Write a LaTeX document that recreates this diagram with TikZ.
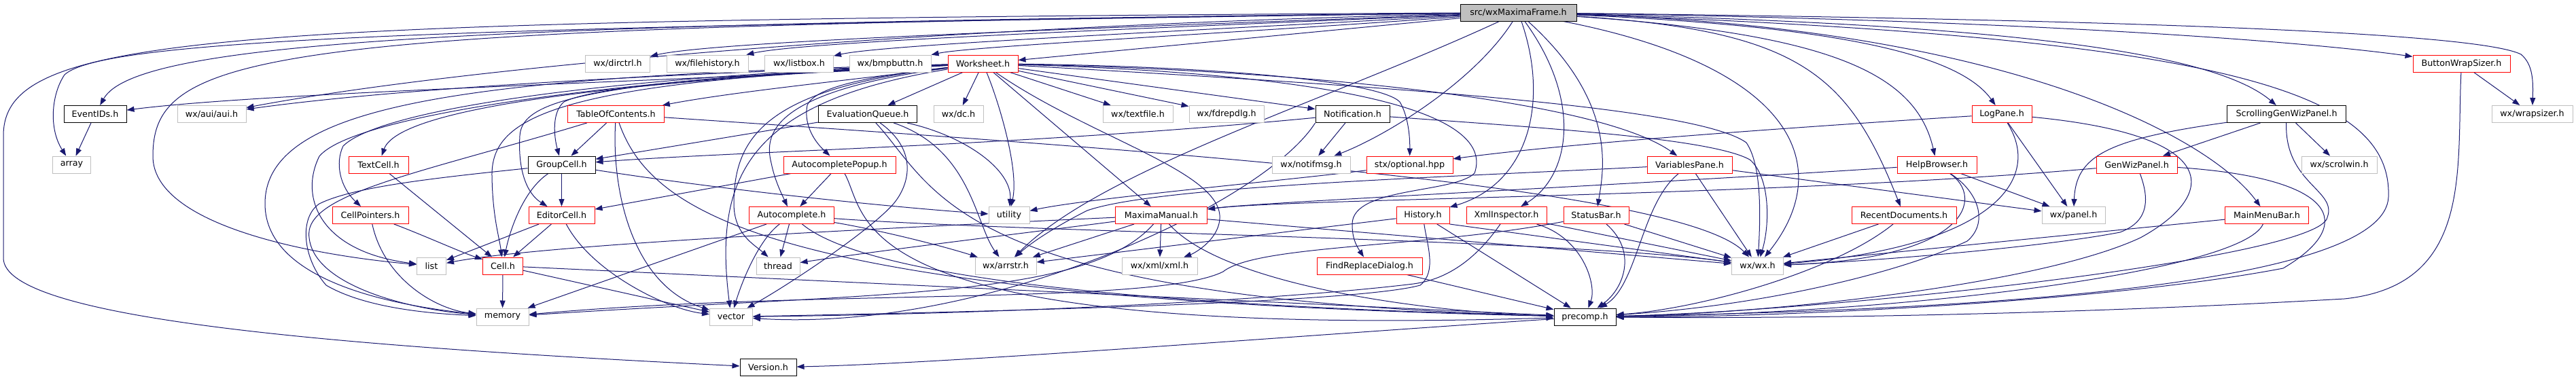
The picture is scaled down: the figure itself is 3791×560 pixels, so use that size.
\documentclass[tikz,border=0pt]{standalone}
\usepackage{fontspec}
\setmainfont{DejaVu Sans}
\usetikzlibrary{arrows.meta}
\definecolor{edgecol}{HTML}{191970}
\definecolor{extc}{HTML}{BFBFBF}
\definecolor{redc}{HTML}{FF0000}
\definecolor{mainfill}{HTML}{BFBFBF}
\pgfdeclarelayer{bg}
\pgfdeclarelayer{edges}
\pgfsetlayers{bg,edges,main}
\begin{document}
\begin{tikzpicture}[x=1pt,y=-1pt,
  nbox/.style={draw, line width=1pt, minimum height=25pt, inner sep=0pt, fill=white, text=black, font=\fontsize{12.7}{15}\selectfont},
  mainbox/.style={nbox, fill=mainfill, draw=black},
  blkbox/.style={nbox, draw=black},
  redbox/.style={nbox, draw=redc},
  extbox/.style={nbox, draw=extc},
  dep/.style={draw=edgecol, line width=1pt, -{Triangle[length=11pt,width=8pt]}}]
\useasboundingbox (0,0) rectangle (3791,560);
\begin{pgfonlayer}{bg}
\fill[white] (0,0) rectangle (3791,560);
\end{pgfonlayer}
% row 0
\node[mainbox, minimum width=171pt] (M) at (2234.5,18.5) {src/wxMaximaFrame.h};
% row 1
\node[extbox, minimum width=95pt] (dirctrl) at (909,93.5) {wx/dirctrl.h};
\node[extbox, minimum width=120pt] (filehist) at (1041,93.5) {wx/filehistory.h};
\node[extbox, minimum width=101pt] (listbox) at (1176,93.5) {wx/listbox.h};
\node[extbox, minimum width=120pt] (bmpbuttn) at (1310,93.5) {wx/bmpbuttn.h};
\node[redbox, minimum width=103pt] (W) at (1446.5,93.5) {Worksheet.h};
\node[redbox, minimum width=143pt] (BWS) at (3622.5,93.5) {ButtonWrapSizer.h};
% row 2
\node[blkbox, minimum width=92pt] (EventIDs) at (140,168) {EventIDs.h};
\node[extbox, minimum width=101pt] (aui) at (311.5,168) {wx/aui/aui.h};
\node[redbox, minimum width=142pt] (TOC) at (906.5,168) {TableOfContents.h};
\node[blkbox, minimum width=145pt] (EQ) at (1277,168) {EvaluationQueue.h};
\node[extbox, minimum width=73pt] (dc) at (1410.5,168) {wx/dc.h};
\node[extbox, minimum width=103pt] (textfile) at (1674.5,168) {wx/textfile.h};
\node[extbox, minimum width=110pt] (fdrepdlg) at (1805,168) {wx/fdrepdlg.h};
\node[blkbox, minimum width=109pt] (Notif) at (1990.5,168) {Notification.h};
\node[redbox, minimum width=88pt] (LogPane) at (2946,168) {LogPane.h};
\node[blkbox, minimum width=175pt] (SGWP) at (3365,168) {ScrollingGenWizPanel.h};
\node[extbox, minimum width=119pt] (wrapsizer) at (3726.5,168) {wx/wrapsizer.h};
% row 3
\node[extbox, minimum width=56pt] (array) at (105.5,242.5) {array};
\node[redbox, minimum width=88pt] (TextCell) at (557,242.5) {TextCell.h};
\node[blkbox, minimum width=99pt] (GC) at (826.5,242.5) {GroupCell.h};
\node[redbox, minimum width=165pt] (AP) at (1235.5,242.5) {AutocompletePopup.h};
\node[extbox, minimum width=115pt] (notifmsg) at (1929.5,242.5) {wx/notifmsg.h};
\node[redbox, minimum width=127pt] (stx) at (2074.5,242.5) {stx/optional.hpp};
\node[redbox, minimum width=125pt] (VP) at (2486.5,242.5) {VariablesPane.h};
\node[redbox, minimum width=117pt] (HB) at (2850.5,242.5) {HelpBrowser.h};
\node[redbox, minimum width=119pt] (GWP) at (3144.5,242.5) {GenWizPanel.h};
\node[extbox, minimum width=111pt] (scrolwin) at (3442.5,242.5) {wx/scrolwin.h};
% row 4
\node[redbox, minimum width=112pt] (CellPtr) at (545,317) {CellPointers.h};
\node[redbox, minimum width=97pt] (EditorCell) at (826.5,317) {EditorCell.h};
\node[redbox, minimum width=125pt] (AC) at (1165,317) {Autocomplete.h};
\node[extbox, minimum width=60pt] (utility) at (1485,317) {utility};
\node[redbox, minimum width=135pt] (MM) at (1709,317) {MaximaManual.h};
\node[redbox, minimum width=78pt] (History) at (2094,317) {History.h};
\node[redbox, minimum width=118pt] (XI) at (2217,317) {XmlInspector.h};
\node[redbox, minimum width=96pt] (SB) at (2349,317) {StatusBar.h};
\node[redbox, minimum width=154pt] (RD) at (2802,317) {RecentDocuments.h};
\node[extbox, minimum width=93pt] (panel) at (3051.5,317) {wx/panel.h};
\node[redbox, minimum width=123pt] (MMB) at (3336,317) {MainMenuBar.h};
% row 5
\node[extbox, minimum width=43pt] (list) at (635,391.5) {list};
\node[redbox, minimum width=59pt] (Cell) at (740,391.5) {Cell.h};
\node[extbox, minimum width=64pt] (thread) at (1145,391.5) {thread};
\node[extbox, minimum width=90pt] (arrstr) at (1480,391.5) {wx/arrstr.h};
\node[extbox, minimum width=111pt] (xml) at (1706.5,391.5) {wx/xml/xml.h};
\node[redbox, minimum width=155pt] (FRD) at (2015.5,391.5) {FindReplaceDialog.h};
\node[extbox, minimum width=76pt] (wxh) at (2586.5,391.5) {wx/wx.h};
% row 6
\node[extbox, minimum width=77pt] (memory) at (739.5,466.5) {memory};
\node[extbox, minimum width=63pt] (vector) at (1076,466.5) {vector};
\node[blkbox, minimum width=91pt] (precomp) at (2332.5,466.5) {precomp.h};
% row 7
\node[blkbox, minimum width=83pt] (Version) at (1130.5,541) {Version.h};

\begin{pgfonlayer}{edges}
% ---- from wxMaximaFrame.h
\draw[dep] (M) -- (W);
\draw[dep] (M) .. controls (1500,45) and (1050,62) .. (dirctrl);
\draw[dep] (M) .. controls (1600,45) and (1180,62) .. (filehist);
\draw[dep] (M) .. controls (1700,48) and (1300,66) .. (listbox);
\draw[dep] (M) .. controls (1800,50) and (1430,68) .. (bmpbuttn);
\draw[dep] (M) .. controls (1400,38) and (700,95) .. (aui);
\draw[dep] (M) .. controls (700,35) and (200,60) .. (EventIDs);
\draw[dep] (M) .. controls (600,40) and (150,60) .. (95,110) .. controls (75,140) and (72,190) .. (array);
\draw[dep] (M) .. controls (400,40) and (225,70) .. (225,230) .. controls (225,330) and (450,375) .. (list);
\draw[dep] (M) .. controls (300,30) and (5,50) .. (5,200) -- (5,380) .. controls (5,470) and (500,510) .. (Version);
\draw[dep] (M) .. controls (2170,120) and (2040,200) .. (notifmsg);
\draw[dep] (M) .. controls (1950,150) and (1620,250) .. (arrstr);
\draw[dep] (M) .. controls (2280,150) and (2250,270) .. (History);
\draw[dep] (M) .. controls (2330,150) and (2310,260) .. (XI);
\draw[dep] (M) .. controls (2380,150) and (2360,250) .. (SB);
\draw[dep] (M) .. controls (2650,45) and (2720,110) .. (RD);
\draw[dep] (M) .. controls (2700,50) and (2820,110) .. (HB);
\draw[dep] (M) .. controls (2750,40) and (2890,90) .. (LogPane);
\draw[dep] (M) .. controls (2650,100) and (2700,250) .. (wxh);
\draw[dep] (M) .. controls (2950,40) and (3250,200) .. (MMB);
\draw[dep] (M) .. controls (2900,35) and (3250,70) .. (SGWP);
\draw[dep] (M) .. controls (3300,55) and (3520,140) .. (3515,290) .. controls (3510,410) and (3000,455) .. (precomp);
\draw[dep] (M) .. controls (3000,30) and (3400,62) .. (BWS);
\draw[dep] (M) .. controls (3200,30) and (3650,50) .. (3710,80) .. controls (3728,95) and (3728,120) .. (wrapsizer);
% ---- misc
\draw[dep] (precomp) .. controls (1900,495) and (1400,535) .. (Version);
\draw[dep] (EventIDs) -- (array);
% ---- from Worksheet.h
\draw[dep] (W) .. controls (1000,120) and (400,135) .. (EventIDs);
\draw[dep] (W) .. controls (1000,108) and (600,128) .. (aui);
\draw[dep] (W) .. controls (1250,118) and (1080,135) .. (TOC);
\draw[dep] (W) -- (EQ);
\draw[dep] (W) -- (dc);
\draw[dep] (W) -- (textfile);
\draw[dep] (W) -- (fdrepdlg);
\draw[dep] (W) -- (Notif);
\draw[dep] (W) .. controls (1000,115) and (590,150) .. (TextCell);
\draw[dep] (W) .. controls (1100,110) and (880,125) .. (830,150) .. controls (812,165) and (815,200) .. (GC);
\draw[dep] (W) .. controls (1300,110) and (1200,125) .. (1188,155) .. controls (1183,180) and (1195,205) .. (AP);
\draw[dep] (W) .. controls (1800,98) and (2030,120) .. (2060,150) .. controls (2072,170) and (2075,200) .. (stx);
\draw[dep] (W) .. controls (1900,103) and (2350,145) .. (VP);
\draw[dep] (W) .. controls (900,112) and (560,160) .. (505,215) .. controls (493,240) and (500,275) .. (CellPtr);
\draw[dep] (W) .. controls (900,115) and (520,170) .. (470,230) .. controls (440,290) and (470,370) .. (list);
\draw[dep] (W) .. controls (850,118) and (768,150) .. (765,200) .. controls (762,250) and (775,285) .. (EditorCell);
\draw[dep] (W) .. controls (820,120) and (722,170) .. (724,260) .. controls (725,320) and (735,350) .. (Cell);
\draw[dep] (W) .. controls (700,112) and (390,150) .. (390,300) .. controls (390,420) and (600,452) .. (memory);
\draw[dep] (W) .. controls (1100,150) and (1050,260) .. (vector);
\draw[dep] (W) .. controls (1130,130) and (1080,200) .. (1080,300) .. controls (1080,345) and (1110,360) .. (thread);
\draw[dep] (W) .. controls (1130,135) and (1125,200) .. (1135,240) .. controls (1140,265) and (1150,285) .. (AC);
\draw[dep] (W) .. controls (1470,150) and (1500,250) .. (utility);
\draw[dep] (W) -- (MM);
\draw[dep] (W) .. controls (1600,200) and (1790,250) .. (1795,317) .. controls (1797,350) and (1760,372) .. (xml);
\draw[dep] (W) .. controls (2000,110) and (2200,170) .. (2170,255) .. controls (2140,285) and (1990,275) .. (1990,330) .. controls (1990,350) and (1995,360) .. (FRD);
\draw[dep] (W) .. controls (2100,130) and (2500,160) .. (2570,210) .. controls (2590,240) and (2592,300) .. (wxh);
% ---- from EvaluationQueue.h
\draw[dep] (EQ) -- (GC);
\draw[dep] (EQ) .. controls (1420,200) and (1490,250) .. (utility);
\draw[dep] (EQ) .. controls (1350,220) and (1340,270) .. (1315,300) .. controls (1280,340) and (1160,420) .. (vector);
\draw[dep] (EQ) .. controls (1380,280) and (1400,440) .. (precomp);
\draw[dep] (EQ) .. controls (1430,220) and (1435,330) .. (arrstr);
% ---- from TableOfContents.h
\draw[dep] (TOC) -- (GC);
\draw[dep] (TOC) .. controls (620,255) and (445,285) .. (455,350) .. controls (462,420) and (600,455) .. (memory);
\draw[dep] (TOC) .. controls (900,280) and (930,420) .. (vector);
\draw[dep] (TOC) .. controls (960,320) and (1150,440) .. (precomp);
\draw[dep] (TOC) .. controls (1600,215) and (2470,270) .. (wxh);
% ---- from GroupCell.h
\draw[dep] (GC) -- (EditorCell);
\draw[dep] (GC) .. controls (770,280) and (750,340) .. (Cell);
\draw[dep] (GC) .. controls (640,262) and (520,275) .. (470,300) .. controls (440,320) and (445,380) .. (480,420) .. controls (540,455) and (640,462) .. (memory);
\draw[dep] (GC) .. controls (1100,285) and (1350,308) .. (utility);
% ---- from Notification.h
\draw[dep] (Notif) -- (notifmsg);
\draw[dep] (Notif) .. controls (1500,215) and (1100,222) .. (GC);
\draw[dep] (Notif) .. controls (2300,190) and (2520,205) .. (2575,235) .. controls (2605,260) and (2605,330) .. (wxh);
\draw[dep] (Notif.south west) .. controls (1860,300) and (1450,490) .. (vector);
% ---- from AutocompletePopup.h
\draw[dep] (AP) -- (EditorCell);
\draw[dep] (AP) -- (AC);
\draw[dep] (AP) .. controls (1280,320) and (1230,500) .. (precomp);
% ---- from Autocomplete.h
\draw[dep] (AC) -- (thread);
\draw[dep] (AC) .. controls (1120,350) and (1095,405) .. (vector);
\draw[dep] (AC) -- (memory);
\draw[dep] (AC) .. controls (1290,338) and (1380,360) .. (arrstr);
\draw[dep] (AC) .. controls (1300,430) and (1900,455) .. (precomp);
\draw[dep] (AC) .. controls (1500,342) and (2300,352) .. (wxh);
% ---- from EditorCell.h
\draw[dep] (EditorCell) -- (list);
\draw[dep] (EditorCell) -- (Cell);
\draw[dep] (EditorCell) .. controls (870,400) and (980,455) .. (vector);
% ---- from Cell.h
\draw[dep] (Cell) -- (memory);
\draw[dep] (Cell) -- (vector);
\draw[dep] (Cell) -- (precomp);
% ---- from CellPointers.h / TextCell.h
\draw[dep] (CellPtr) .. controls (620,345) and (680,372) .. (Cell);
\draw[dep] (CellPtr) .. controls (565,410) and (640,455) .. (memory);
\draw[dep] (TextCell) -- (Cell);
% ---- from MaximaManual.h
\draw[dep] (MM) .. controls (1550,338) and (1300,368) .. (thread);
\draw[dep] (MM) -- (arrstr);
\draw[dep] (MM) -- (xml);
\draw[dep] (MM) .. controls (1600,440) and (1300,430) .. (memory);
\draw[dep] (MM) .. controls (1800,420) and (2100,460) .. (precomp);
\draw[dep] (MM) -- (wxh);
\draw[dep] (MM) .. controls (1300,336) and (800,360) .. (list);
% ---- from History.h
\draw[dep] (History) -- (arrstr);
\draw[dep] (History) -- (precomp);
\draw[dep] (History.south east) -- (wxh);
\draw[dep] (History) .. controls (2100,360) and (2115,400) .. (2090,420) .. controls (2000,445) and (1500,458) .. (vector);
% ---- from XmlInspector.h
\draw[dep] (XI) .. controls (2330,350) and (2350,420) .. (precomp);
\draw[dep] (XI) .. controls (2180,370) and (2140,410) .. (2080,418) .. controls (1900,440) and (1500,462) .. (vector);
\draw[dep] (XI) -- (wxh);
% ---- from StatusBar.h
\draw[dep] (SB) .. controls (2410,370) and (2390,425) .. (precomp);
\draw[dep] (SB) .. controls (2100,365) and (1850,360) .. (1800,400) .. controls (1700,450) and (1200,425) .. (memory);
\draw[dep] (SB) -- (wxh);
% ---- FindReplaceDialog.h, RecentDocuments.h
\draw[dep] (FRD) -- (precomp);
\draw[dep] (RD) -- (wxh);
\draw[dep] (RD) .. controls (2700,400) and (2500,455) .. (precomp);
% ---- from VariablesPane.h
\draw[dep] (VP) -- (wxh);
\draw[dep] (VP) -- (panel);
\draw[dep] (VP) .. controls (2100,262) and (1700,275) .. (1600,310) .. controls (1560,330) and (1520,355) .. (arrstr);
\draw[dep] (VP) .. controls (2415,300) and (2410,420) .. (precomp);
% ---- stx/optional.hpp
\draw[dep] (stx) .. controls (1900,265) and (1600,292) .. (utility);
% ---- from HelpBrowser.h
\draw[dep] (HB) .. controls (2400,272) and (1850,298) .. (MM);
\draw[dep] (HB) -- (panel);
\draw[dep] (HB) .. controls (2920,290) and (2900,380) .. (wxh);
\draw[dep] (HB) .. controls (2915,285) and (2925,330) .. (2895,355) .. controls (2800,400) and (2600,450) .. (precomp);
% ---- from LogPane.h
\draw[dep] (LogPane) .. controls (2600,190) and (2300,212) .. (stx);
\draw[dep] (LogPane) -- (panel);
\draw[dep] (LogPane) .. controls (3010,270) and (2920,365) .. (wxh);
\draw[dep] (LogPane) .. controls (3280,200) and (3260,290) .. (3150,350) .. controls (3000,420) and (2600,462) .. (precomp);
% ---- from GenWizPanel.h
\draw[dep] (GWP) .. controls (2600,290) and (1900,292) .. (MM);
\draw[dep] (GWP) .. controls (3162,290) and (3165,325) .. (3120,342) .. controls (3000,365) and (2750,385) .. (wxh);
\draw[dep] (GWP) .. controls (3440,262) and (3470,330) .. (3360,395) .. controls (3100,445) and (2600,468) .. (precomp);
% ---- from ScrollingGenWizPanel.h
\draw[dep] (SGWP) -- (GWP);
\draw[dep] (SGWP) -- (scrolwin);
\draw[dep] (SGWP) .. controls (3362,270) and (3440,280) .. (3425,320) .. controls (3415,380) and (2700,458) .. (precomp);
\draw[dep] (SGWP) .. controls (3100,205) and (3055,230) .. (panel);
% ---- from MainMenuBar.h
\draw[dep] (MMB) -- (wxh);
\draw[dep] (MMB) .. controls (3300,400) and (2800,462) .. (precomp);
% ---- from ButtonWrapSizer.h
\draw[dep] (BWS) -- (wrapsizer);
\draw[dep] (BWS) .. controls (3615,250) and (3640,420) .. (3450,440) .. controls (3100,460) and (2700,470) .. (precomp);
\end{pgfonlayer}
\end{tikzpicture}
\end{document}
